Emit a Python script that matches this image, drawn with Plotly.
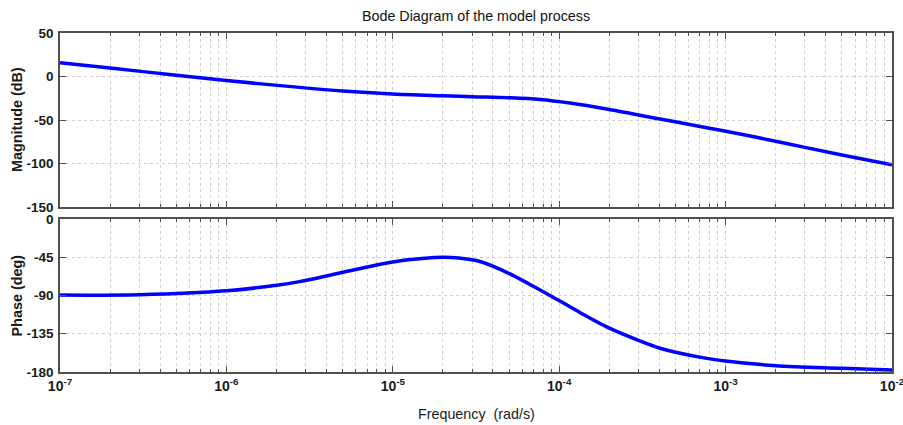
import plotly.graph_objects as go
from plotly.subplots import make_subplots

# Values (frequency in rad/s)
mag_freq = [1e-7, 2e-7, 5e-7, 1e-6, 2.75e-6, 5e-6, 1e-5, 2e-5, 3e-5, 5e-5, 7.7e-5,
            1.16e-4, 1.93e-4, 3.05e-4, 4.8e-4, 7.7e-4, 1.22e-3, 2e-3, 3e-3, 5e-3, 1e-2]
mag_db = [15.7, 9.7, 1.5, -4.6, -12.5, -16.6, -20.0, -22.2, -23.2, -24.4, -26.4,
          -30.5, -37.3, -44.5, -51.5, -58.8, -66.0, -74.5, -81.5, -90.2, -101.5]

ph_freq = [1e-7, 3e-7, 1e-6, 2e-6, 2.75e-6, 4e-6, 5e-6, 1e-5, 1.5e-5, 2e-5, 2.5e-5,
           3.34e-5, 5.06e-5, 6.67e-5, 8.8e-5, 1.01e-4, 1.33e-4, 1.93e-4, 2.92e-4,
           4.03e-4, 7e-4, 1e-3, 2e-3, 5e-3, 1e-2]
ph_deg = [-89.5, -89.0, -84.4, -78.0, -73.7, -67.0, -62.7, -50.5, -46.5, -45.1, -46.0,
          -50.0, -64.5, -77.0, -90.0, -96.5, -110.0, -127.0, -142.0,
          -152.0, -162.5, -167.0, -172.6, -175.6, -177.6]

x_tickvals = [1e-7, 1e-6, 1e-5, 1e-4, 1e-3, 1e-2]
x_ticktext = ["10<sup>-7</sup>", "10<sup>-6</sup>", "10<sup>-5</sup>",
              "10<sup>-4</sup>", "10<sup>-3</sup>", "10<sup>-2</sup>"]
mag_ticks = [50, 0, -50, -100, -150]
ph_ticks = [0, -45, -90, -135, -180]

title_text = "Bode Diagram of the model process"
mag_label = "Magnitude (dB)"
ph_label = "Phase (deg)"
freq_label = "Frequency  (rad/s)"

FONT = "Liberation Sans, Arial, sans-serif"
FRAME = "#505050"
GRID = "#cfcfcf"
BLUE = "#0000ff"
TXT = "#1a1a1a"

fig = make_subplots(rows=2, cols=1, shared_xaxes=False)

fig.add_trace(go.Scatter(x=mag_freq, y=mag_db, mode="lines",
                         line=dict(color=BLUE, width=3.5, shape="spline", smoothing=1.0),
                         showlegend=False, hoverinfo="skip"), row=1, col=1)
fig.add_trace(go.Scatter(x=ph_freq, y=ph_deg, mode="lines",
                         line=dict(color=BLUE, width=3.5, shape="spline", smoothing=1.0),
                         showlegend=False, hoverinfo="skip"), row=2, col=1)

xcommon = dict(type="log", range=[-7, -2], showline=True, linecolor=FRAME, linewidth=1.6,
               mirror="ticks", ticks="inside", ticklen=6, tickcolor=FRAME, tickwidth=1.2,
               tickvals=x_tickvals, showgrid=True, gridcolor=GRID, griddash="dot", gridwidth=1,
               zeroline=False, automargin=False, ticklabeloverflow="allow",
               minor=dict(dtick="D1", ticks="inside", ticklen=3, tickcolor=FRAME,
                          showgrid=True, gridcolor=GRID, griddash="dot", gridwidth=1))
ycommon = dict(showline=True, linecolor=FRAME, linewidth=1.6, mirror="ticks",
               ticks="inside", ticklen=6, tickcolor=FRAME, tickwidth=1.2,
               showgrid=True, gridcolor=GRID, griddash="dot", gridwidth=1, zeroline=False,
               automargin=False, ticklabelstandoff=2, ticklabeloverflow="allow",
               tickfont=dict(family=FONT, size=13.5, color=TXT))

fig.update_layout(
    width=903, height=425,
    margin=dict(l=60, r=11, t=33, b=53, autoexpand=False),
    paper_bgcolor="white", plot_bgcolor="white",
    xaxis=dict(**xcommon, domain=[0, 1], anchor="y", showticklabels=False),
    xaxis2=dict(**xcommon, domain=[0, 1], anchor="y2",
                ticktext=["<b>" + t + "</b>" for t in x_ticktext],
                tickfont=dict(family=FONT, size=14, color=TXT)),
    yaxis=dict(**ycommon, domain=[0.4867, 1.0], range=[-150, 50], tickvals=mag_ticks,
               ticktext=["<b>" + str(v) + "</b>" for v in mag_ticks]),
    yaxis2=dict(**ycommon, domain=[0.0, 0.4513], range=[-180, 0], tickvals=ph_ticks,
                ticktext=["<b>" + str(v) + "</b>" for v in ph_ticks]),
    annotations=[
        dict(text=title_text, x=0.5, y=1.0, xref="paper", yref="paper", xanchor="center",
             yanchor="bottom", yshift=7, showarrow=False,
             font=dict(family=FONT, size=14.3, color="#111111")),
        dict(text="<b>" + mag_label + "</b>", x=0, y=0.7433, xref="paper", yref="paper",
             xanchor="center", yanchor="middle", xshift=-43, textangle=-90, showarrow=False,
             font=dict(family=FONT, size=14.4, color=TXT)),
        dict(text="<b>" + ph_label + "</b>", x=0, y=0.2257, xref="paper", yref="paper",
             xanchor="center", yanchor="middle", xshift=-43, textangle=-90, showarrow=False,
             font=dict(family=FONT, size=14.4, color=TXT)),
        dict(text=freq_label, x=0.5, y=0, xref="paper", yref="paper", xanchor="center",
             yanchor="top", yshift=-32, showarrow=False,
             font=dict(family=FONT, size=14.3, color=TXT)),
    ],
)

fig.write_html("out.html")
